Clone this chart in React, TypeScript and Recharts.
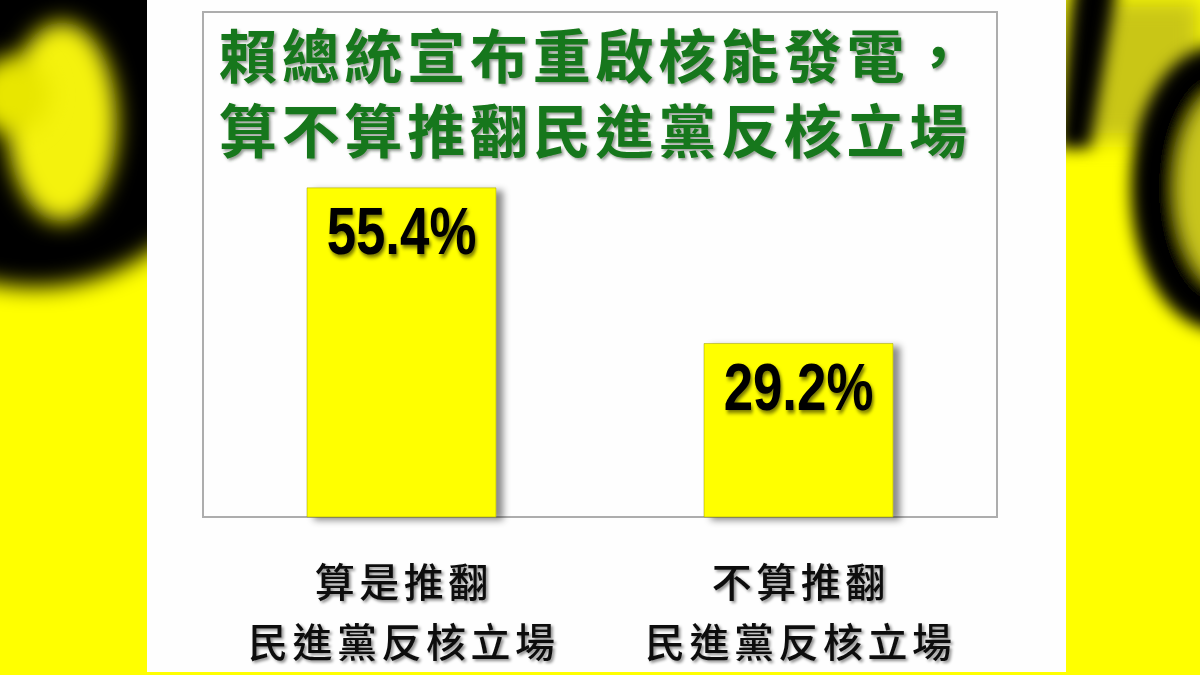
import { BarChart, Bar, XAxis, YAxis, LabelList, ReferenceArea } from 'recharts'

const titleLines = ['賴總統宣布重啟核能發電，', '算不算推翻民進黨反核立場']
const categoryTop = ['算是推翻', '不算推翻']
const categoryBottom = ['民進黨反核立場', '民進黨反核立場']
const shares = [55.4, 29.2]
const yDomain = [0, 85]

const data = shares.map((value, i) => ({ name: categoryTop[i], value }))

const CJK = "'Noto Sans CJK TC', 'Noto Sans CJK SC', sans-serif"
const NARROW = "'Liberation Sans Narrow', 'Arial Narrow', 'Liberation Sans', sans-serif"

function CategoryTick(props: any) {
  const { x, y, payload } = props
  const i = payload.index
  const spacing = 4.5
  return (
    <g filter="url(#labelShadow)">
      <text x={x + spacing / 2} y={y + 63} textAnchor="middle" dominantBaseline="central"
        fontFamily={CJK} fontSize={40} fontWeight={500} letterSpacing={spacing} fill="#111">
        {categoryTop[i]}
      </text>
      <text x={x + spacing / 2} y={y + 123} textAnchor="middle" dominantBaseline="central"
        fontFamily={CJK} fontSize={40} fontWeight={500} letterSpacing={spacing} fill="#111">
        {categoryBottom[i]}
      </text>
    </g>
  )
}

// the original uses a condensed bold face, so squeeze it horizontally
function ValueLabel(props: any) {
  const { x, y, width, value } = props
  return (
    <g transform={`translate(${x + width / 2}, ${y + 66}) scale(0.8, 1)`} filter="url(#textShadow)">
      <text x={0} y={0} textAnchor="middle" fontFamily={NARROW} fontWeight={700} fontSize={66} fill="#000">
        {value.toFixed(1)}%
      </text>
    </g>
  )
}

function Backdrop() {
  return (
    <svg width={1200} height={675} style={{ position: 'absolute', left: 0, top: 0 }}>
      <defs>
        <filter id="blurBig" x="-50%" y="-50%" width="200%" height="200%">
          <feGaussianBlur stdDeviation="11" />
        </filter>
        <filter id="blurMid" x="-50%" y="-50%" width="200%" height="200%">
          <feGaussianBlur stdDeviation="8" />
        </filter>
      </defs>
      <rect width={1200} height={675} fill="#ffff00" />
      {/* left strip */}
      <path d="M-30,-30 H180 V228 Q90,310 -30,278 Z" fill="#000" filter="url(#blurBig)" />
      <ellipse cx={62} cy={122} rx={55} ry={100} fill="#f4f20a" filter="url(#blurBig)" />
      <ellipse cx={12} cy={95} rx={38} ry={38} fill="#e8e600" filter="url(#blurBig)" />
      {/* right strip */}
      <rect x={1066} y={0} width={134} height={140} fill="#c9c616" filter="url(#blurBig)" />
      <path d="M1075,-20 L1118,-20 L1090,148 L1058,148 Z" fill="#000" filter="url(#blurMid)" />
      <ellipse cx={1222} cy={188} rx={68} ry={120} fill="#c8c51a" stroke="#000" strokeWidth={46}
        filter="url(#blurMid)" />
      {/* white panel */}
      <rect x={147} y={0} width={919} height={672} fill="#fefefe" />
    </svg>
  )
}

export default function App() {
  return (
    <div style={{ position: 'absolute', left: 0, top: 0, width: 1200, height: 675, overflow: 'hidden' }}>
      <Backdrop />
      <svg width={0} height={0} style={{ position: 'absolute' }}>
        <defs>
          <filter id="barShadow" x="-20%" y="-20%" width="140%" height="140%">
            <feDropShadow dx="7" dy="3" stdDeviation="3.5" floodColor="#000" floodOpacity="0.45" />
          </filter>
          <filter id="textShadow" x="-20%" y="-30%" width="140%" height="160%">
            <feDropShadow dx="2" dy="3" stdDeviation="2" floodColor="#000" floodOpacity="0.55" />
          </filter>
          <filter id="labelShadow" x="-20%" y="-30%" width="140%" height="160%">
            <feDropShadow dx="2" dy="2" stdDeviation="1.6" floodColor="#000" floodOpacity="0.45" />
          </filter>
          <filter id="titleShadow" x="-10%" y="-30%" width="120%" height="160%">
            <feDropShadow dx="2" dy="2" stdDeviation="1.5" floodColor="#203020" floodOpacity="0.5" />
          </filter>
        </defs>
      </svg>
      <div style={{ position: 'absolute', left: 0, top: 0 }}>
        <BarChart width={1200} height={675} data={data} margin={{ top: 12, right: 203, left: 203, bottom: 8 }}>
          <ReferenceArea y1={yDomain[0]} y2={yDomain[1]} fill="none" stroke="#adadad" strokeWidth={2}
            ifOverflow="visible" />
          <XAxis dataKey="name" height={150} axisLine={false} tickLine={false} tickSize={0} tickMargin={0}
            interval={0} tick={<CategoryTick />} />
          <YAxis hide domain={yDomain} />
          <Bar dataKey="value" fill="#ffff00" stroke="rgba(140,140,0,0.45)" strokeWidth={1} barSize={189}
            filter="url(#barShadow)" isAnimationActive={false}>
            <LabelList dataKey="value" content={<ValueLabel />} />
          </Bar>
        </BarChart>
      </div>
      <svg width={1200} height={675} style={{ position: 'absolute', left: 0, top: 0, pointerEvents: 'none' }}>
        <text dominantBaseline="central" fontFamily={CJK} fontSize={58} fontWeight={700} letterSpacing={4.75}
          fill="#18771a" filter="url(#titleShadow)">
          {titleLines.map((line, i) => (
            <tspan key={i} x={219} y={53 + i * 75}>
              {line}
            </tspan>
          ))}
        </text>
      </svg>
    </div>
  )
}
